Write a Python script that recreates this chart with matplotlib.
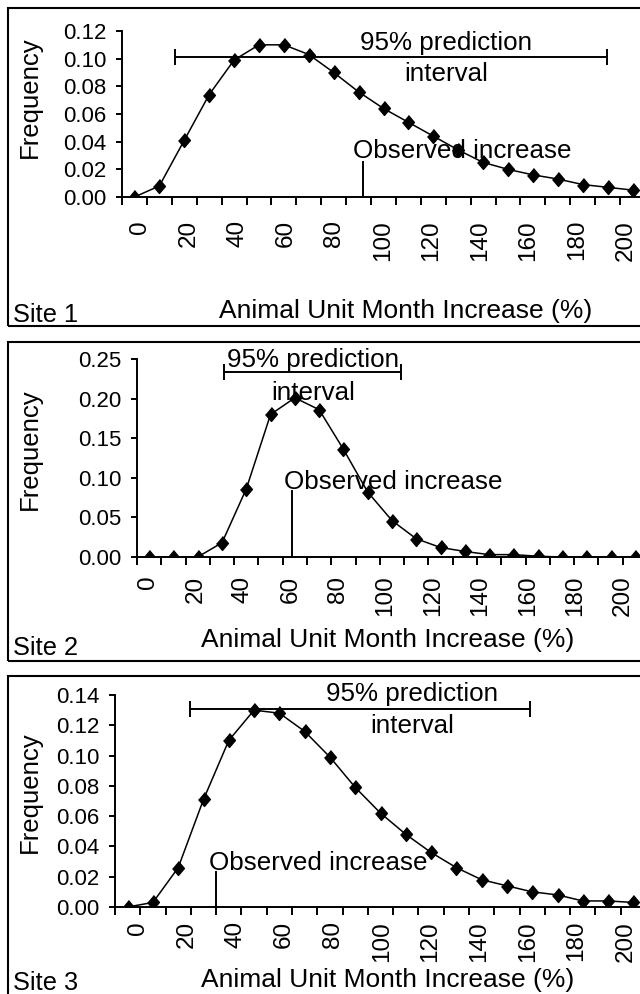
import matplotlib
matplotlib.use("Agg")
import matplotlib.pyplot as plt
from matplotlib.patches import Rectangle

plt.rcParams['font.family'] = ['Liberation Sans', 'DejaVu Sans']

# bin centres (% increase) and the frequency of each bin
increase = [0, 10, 20, 30, 40, 50, 60, 70, 80, 90, 100,
            110, 120, 130, 140, 150, 160, 170, 180, 190, 200]
tick_labels = ['0', '20', '40', '60', '80', '100', '120', '140', '160', '180', '200']

site1_freq = [0.000, 0.008, 0.041, 0.074, 0.099, 0.110, 0.110, 0.103, 0.090, 0.076, 0.064,
              0.054, 0.044, 0.034, 0.025, 0.020, 0.016, 0.013, 0.009, 0.007, 0.005]
site2_freq = [0.000, 0.000, 0.000, 0.018, 0.086, 0.180, 0.201, 0.186, 0.136, 0.082, 0.046,
              0.023, 0.012, 0.007, 0.003, 0.003, 0.001, 0.000, 0.000, 0.000, 0.000]
site3_freq = [0.000, 0.003, 0.026, 0.071, 0.110, 0.130, 0.128, 0.116, 0.099, 0.079, 0.062,
              0.048, 0.036, 0.026, 0.018, 0.014, 0.010, 0.008, 0.004, 0.004, 0.003]

# 95% prediction interval (low, high, height) and observed increase (x, top)
site1_interval = (16.3, 189.8, 0.101)
site2_interval = (30.7, 103.7, 0.233)
site3_interval = (24.5, 159.1, 0.131)
site1_observed = (91.7, 0.025)
site2_observed = (58.9, 0.083)
site3_observed = (34.8, 0.023)

W, H = 640, 994
fig = plt.figure(figsize=(W / 100, H / 100), dpi=100)


def fx(px):
    return px / W


def fy(py):
    return 1 - py / H


diamond = [(0, 1), (0.85, 0), (0, -1), (-0.85, 0)]

panels = [
    # lab_shift: the pasted Excel labels drift a little against the points
    dict(freq=site1_freq, interval=site1_interval, obs=site1_observed,
         ymax=0.12, ystep=0.02, box=(122, 31, 197, 645), pad=16.5, lab_shift=(2.2, 0.975),
         txt_x=125.1, txt_y=(0.1065, 0.0836), obs_txt=(87.8, 0.0285),
         frame=(8, 326), ylab=97, title_x=406, title_y=318, site_y=322, name='Site 1'),
    dict(freq=site2_freq, interval=site2_interval, obs=site2_observed,
         ymax=0.25, ystep=0.05, box=(137, 359, 557, 647), pad=13.5, lab_shift=(-0.5, 0.978),
         txt_x=67.4, txt_y=(0.240, 0.198), obs_txt=(55.6, 0.086),
         frame=(342, 661), ylab=449, title_x=388, title_y=647, site_y=655, name='Site 2'),
    dict(freq=site3_freq, interval=site3_interval, obs=site3_observed,
         ymax=0.14, ystep=0.02, box=(115, 695, 907, 646), pad=10, lab_shift=(4.1, 0.9635),
         txt_x=112.5, txt_y=(0.136, 0.1151), obs_txt=(32.2, 0.0246),
         frame=(676, 1010), ylab=792, title_x=388, title_y=987, site_y=990, name='Site 3'),
]

for p in panels:
    left, top, bottom, right = p['box']
    ax = fig.add_axes([fx(left), fy(bottom), fx(right - left), (bottom - top) / H])

    ax.plot(increase, p['freq'], color='black', lw=1.1,
            marker=diamond, ms=10, mfc='black', mec='black')

    ax.set_xlim(-5, 205)
    ax.set_ylim(0, p['ymax'])
    n = int(round(p['ymax'] / p['ystep']))
    yt = [i * p['ystep'] for i in range(n + 1)]
    ax.set_yticks(yt, ['%.2f' % v for v in yt])

    # ticks between categories, labels on every second category
    ax.set_xticks([v - 5 for v in increase] + [205], [])
    a, b = p['lab_shift']
    ax.set_xticks([a + b * v for v in increase[::2]], tick_labels, minor=True, rotation=90)
    ax.tick_params(axis='x', which='major', direction='out', length=5.8, width=1.4)
    ax.tick_params(axis='x', which='minor', length=0, pad=p['pad'], labelsize=17.5)
    ax.tick_params(axis='y', direction='out', length=4.3, width=1.4, pad=7, labelsize=16)

    for s in ['top', 'right']:
        ax.spines[s].set_visible(False)
    for s in ['left', 'bottom']:
        ax.spines[s].set_linewidth(1.4)
    ax.patch.set_alpha(0)

    lo, hi, yv = p['interval']
    ax.errorbar((lo + hi) / 2, yv, xerr=(hi - lo) / 2, fmt='none', ecolor='black',
                elinewidth=1.4, capsize=6, capthick=1.4, clip_on=False)
    ax.text(p['txt_x'], p['txt_y'][0], '95% prediction', ha='center', va='baseline',
            fontsize=18.7, clip_on=False)
    ax.text(p['txt_x'], p['txt_y'][1], 'interval', ha='center', va='baseline',
            fontsize=18.7, clip_on=False)

    ox, otop = p['obs']
    ax.plot([ox, ox], [0, otop], color='black', lw=1.4)
    ax.text(p['obs_txt'][0], p['obs_txt'][1], 'Observed increase', ha='left',
            va='baseline', fontsize=18.7)

    ftop, fbot = p['frame']
    fig.patches.append(Rectangle((fx(8), fy(fbot)), fx(700), (fbot - ftop) / H,
                                 transform=fig.transFigure, fill=False,
                                 edgecolor='black', lw=1.5))

    fig.text(fx(30), fy(p['ylab']), 'Frequency', rotation=90, ha='center',
             va='center', fontsize=18.5)
    fig.text(fx(p['title_x']), fy(p['title_y']), 'Animal Unit Month Increase (%)',
             ha='center', va='baseline', fontsize=19)
    fig.text(fx(13), fy(p['site_y']), p['name'], ha='left', va='baseline', fontsize=18.3)

fig.savefig('out.png', dpi=100)
